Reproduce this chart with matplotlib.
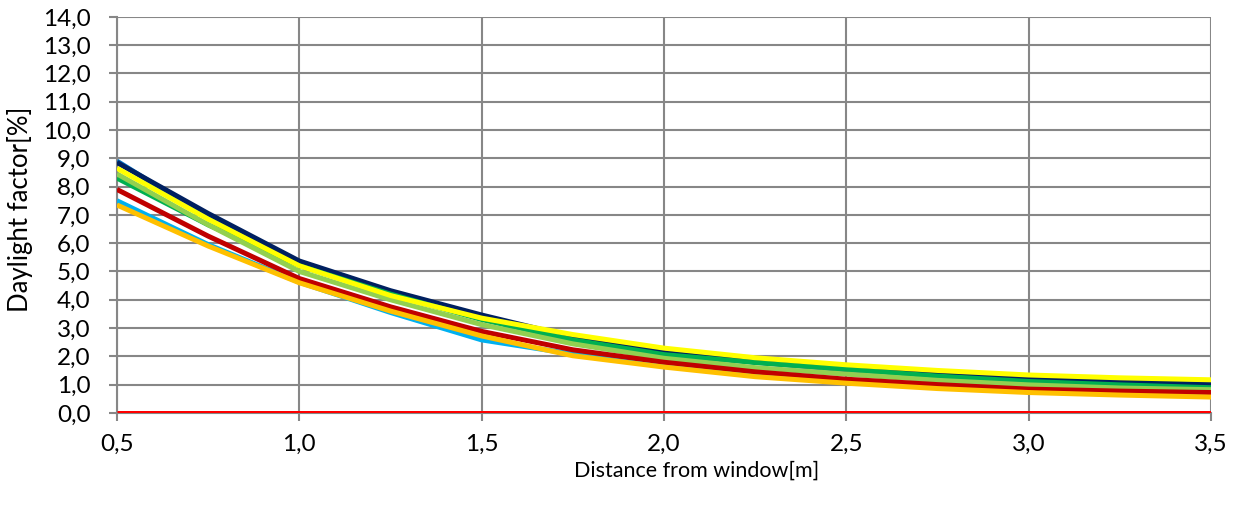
import matplotlib
matplotlib.use("Agg")
import matplotlib.pyplot as plt
from matplotlib.ticker import FuncFormatter, MultipleLocator

# distance from window [m]
distance = [0.5, 0.75, 1.0, 1.25, 1.5, 1.75, 2.0, 2.25, 2.5, 2.75, 3.0, 3.25, 3.5]

# daylight factor [%] per series
df_navy = [8.85, 7.05, 5.37, 4.32, 3.46, 2.68, 2.13, 1.80, 1.54, 1.36, 1.23, 1.10, 1.01]
df_blue = [8.90, 6.90, 5.30, 4.26, 3.42, 2.66, 2.12, 1.79, 1.53, 1.35, 1.22, 1.09, 1.00]
df_lightblue = [7.50, 5.95, 4.62, 3.55, 2.58, 2.08, 1.68, 1.33, 1.08, 0.90, 0.75, 0.66, 0.60]
df_green = [8.30, 6.65, 5.20, 4.20, 3.30, 2.58, 2.06, 1.78, 1.54, 1.30, 1.11, 0.99, 0.89]
df_lightgreen = [8.45, 6.65, 5.00, 4.00, 3.12, 2.44, 1.93, 1.60, 1.37, 1.15, 0.99, 0.88, 0.82]
df_yellow = [8.65, 6.85, 5.20, 4.15, 3.35, 2.77, 2.29, 1.95, 1.70, 1.50, 1.34, 1.24, 1.17]
df_darkred = [7.90, 6.25, 4.75, 3.75, 2.88, 2.23, 1.79, 1.45, 1.19, 1.00, 0.84, 0.77, 0.72]
df_orange = [7.35, 5.90, 4.60, 3.60, 2.72, 2.02, 1.62, 1.28, 1.05, 0.86, 0.72, 0.63, 0.56]
df_red = [0.0, 0.0, 0.0, 0.0, 0.0, 0.0, 0.0, 0.0, 0.0, 0.0, 0.0, 0.0, 0.0]

series = [
    (df_blue, "#0070C0"),
    (df_navy, "#002060"),
    (df_lightblue, "#00B0F0"),
    (df_green, "#00B050"),
    (df_lightgreen, "#92D050"),
    (df_yellow, "#FFFF00"),
    (df_darkred, "#C00000"),
    (df_orange, "#FFC000"),
    (df_red, "#FF0000"),
]

plt.rcParams['font.family'] = ['Lato', 'DejaVu Sans']

fig = plt.figure(figsize=(12.44, 5.11), dpi=100)
ax = fig.add_axes([0.094, 0.192, 0.8795, 0.775])

for vals, col in series:
    ax.plot(distance, vals, color=col, linewidth=3.6, solid_capstyle='butt',
            solid_joinstyle='round', zorder=3)

ax.set_xlim(0.5, 3.5)
ax.set_ylim(0, 14)
ax.xaxis.set_major_locator(MultipleLocator(0.5))
ax.yaxis.set_major_locator(MultipleLocator(1.0))
fmt = FuncFormatter(lambda v, pos: f"{v:.1f}".replace('.', ','))
ax.xaxis.set_major_formatter(fmt)
ax.yaxis.set_major_formatter(fmt)

ax.grid(True, color='#878787', linewidth=1.5, zorder=0)
ax.set_axisbelow(True)
for s in ['top', 'right']:
    ax.spines[s].set_visible(False)
for s in ['left', 'bottom']:
    ax.spines[s].set_color('#878787')
    ax.spines[s].set_linewidth(1.5)
ax.tick_params(axis='both', colors='#878787', length=6, width=1.5, labelsize=17.5,
               labelcolor='black', direction='out')
ax.tick_params(axis='x', pad=9)
ax.tick_params(axis='y', pad=13)

# axis titles placed like the original (x title sits a bit right of centre)
ax.set_xlabel('Distance from window[m]', fontsize=15.5, va='center')
ax.xaxis.set_label_coords(0.530, -0.146)
ax.set_ylabel('Daylight factor[%]', fontsize=18.5, va='center')
ax.yaxis.set_label_coords(-0.0887, 0.515)

fig.savefig('out.png', dpi=100)
